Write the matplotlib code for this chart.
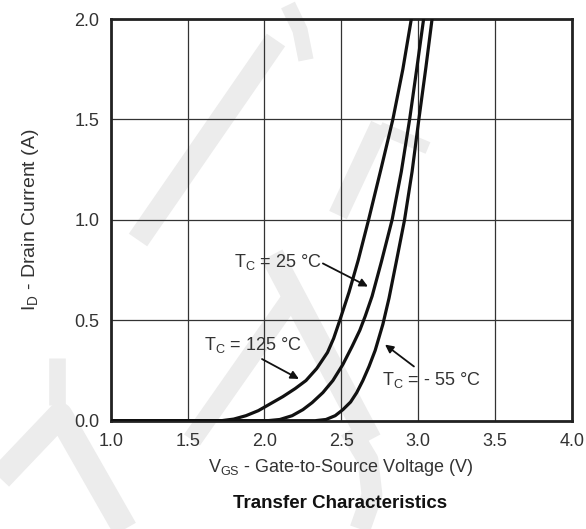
import matplotlib
matplotlib.use('Agg')
import matplotlib.pyplot as plt
from matplotlib.lines import Line2D

plt.rcParams['font.family'] = ['Liberation Sans', 'DejaVu Sans']
plt.rcParams['mathtext.fontset'] = 'custom'
plt.rcParams['mathtext.rm'] = 'Liberation Sans'
plt.rcParams['mathtext.it'] = 'Liberation Sans'

# values (VGS in V, ID in A)
vgs_125 = [1.00, 1.72, 1.80, 1.88, 1.96, 2.04, 2.12, 2.20, 2.27, 2.34, 2.41, 2.45, 2.49, 2.55, 2.61, 2.677, 2.76, 2.835, 2.90, 2.955]
id_125 = [0.00, 0.00, 0.008, 0.025, 0.05, 0.085, 0.12, 0.16, 0.20, 0.26, 0.34, 0.41, 0.50, 0.64, 0.80, 1.00, 1.26, 1.50, 1.75, 2.00]

vgs_25 = [1.00, 2.02, 2.10, 2.18, 2.25, 2.31, 2.38, 2.445, 2.51, 2.57, 2.62, 2.655, 2.70, 2.76, 2.83, 2.89, 2.944, 2.99, 3.035]
id_25 = [0.00, 0.00, 0.006, 0.025, 0.055, 0.09, 0.14, 0.20, 0.28, 0.37, 0.45, 0.52, 0.62, 0.79, 1.00, 1.24, 1.50, 1.75, 2.00]

vgs_m55 = [1.00, 2.33, 2.40, 2.46, 2.51, 2.56, 2.60, 2.64, 2.68, 2.72, 2.77, 2.81, 2.857, 2.911, 2.96, 3.004, 3.05, 3.09]
id_m55 = [0.00, 0.00, 0.006, 0.025, 0.055, 0.093, 0.14, 0.20, 0.27, 0.35, 0.48, 0.61, 0.79, 1.00, 1.24, 1.50, 1.76, 2.00]

x_ticks = [1.0, 1.5, 2.0, 2.5, 3.0, 3.5, 4.0]
y_ticks = [0.0, 0.5, 1.0, 1.5, 2.0]

fig = plt.figure(figsize=(5.86, 5.29), dpi=100)
fig.patch.set_facecolor('white')

# faint watermark strokes behind the chart (figure pixel coords, origin top-left)
wm = '#ececec'
def stroke(xs, ys, lw):
    fig.add_artist(Line2D([x / 586 for x in xs], [1 - y / 529 for y in ys],
                          color=wm, lw=lw, solid_capstyle='butt', zorder=0))

stroke([138, 276], [240, 40], 16)
stroke([288, 300, 306], [5, 30, 60], 11)
stroke([338, 380], [215, 125], 14)
stroke([380, 428], [128, 148], 9)
stroke([272, 370], [255, 440], 17)
stroke([192, 290], [440, 300], 14)
stroke([0, 60, 125], [478, 415, 529], 18)
stroke([57, 57], [358, 405], 12)
stroke([350, 368, 372, 360], [430, 460, 495, 529], 15)

ax = fig.add_axes([110.7 / 586, 1 - 420.7 / 529, (572 - 110.7) / 586, (420.7 - 19) / 529])
ax.patch.set_alpha(0)

for v, i in [(vgs_125, id_125), (vgs_25, id_25), (vgs_m55, id_m55)]:
    ax.plot(v, i, color='#111111', lw=2.3, solid_capstyle='round', solid_joinstyle='round', zorder=3)

ax.set_xlim(1.0, 4.0)
ax.set_ylim(0.0, 2.0)
ax.set_xticks(x_ticks)
ax.set_yticks(y_ticks)
ax.set_xticklabels([f'{t:.1f}' for t in x_ticks])
ax.set_yticklabels([f'{t:.1f}' for t in y_ticks])
ax.grid(True, color='#333333', lw=0.9)
ax.set_axisbelow(True)
for s in ax.spines.values():
    s.set_linewidth(2.0)
    s.set_color('#222222')
ax.tick_params(axis='both', length=0, labelsize=13, labelcolor='#333333')
ax.tick_params(axis='x', pad=9)
ax.tick_params(axis='y', pad=8)

ax.set_ylabel('I$_\\mathregular{D}$ - Drain Current (A)', fontsize=14, color='#333333', va='center')
ax.yaxis.set_label_coords((31 - 110.7) / 461.3, 0.5)
ax.set_xlabel('V$_\\mathregular{GS}$ - Gate-to-Source Voltage (V)', fontsize=13, color='#333333', va='center')
ax.xaxis.set_label_coords(0.5, (420.7 - 467) / 401.7)
fig.text(340 / 586, 1 - 503 / 529, 'Transfer Characteristics', fontsize=13.5, weight='bold',
         ha='center', va='center', color='#111111')

arrow = dict(arrowstyle='-|>', color='#111111', lw=1.3, mutation_scale=12, shrinkA=0, shrinkB=0)
ax.text(2.374, 0.79, 'T$_\\mathregular{C}$ = 25 °C', fontsize=13, color='#333333', ha='right', va='center')
ax.annotate('', xy=(2.673, 0.668), xytext=(2.380, 0.783), arrowprops=arrow)
ax.text(1.922, 0.377, 'T$_\\mathregular{C}$ = 125 °C', fontsize=13, color='#333333', ha='center', va='center')
ax.annotate('', xy=(2.224, 0.208), xytext=(1.984, 0.307), arrowprops=arrow)
ax.text(3.086, 0.203, 'T$_\\mathregular{C}$ = - 55 °C', fontsize=13, color='#333333', ha='center', va='center')
ax.annotate('', xy=(2.784, 0.379), xytext=(2.972, 0.270), arrowprops=arrow)

fig.savefig('out.png', dpi=100)
